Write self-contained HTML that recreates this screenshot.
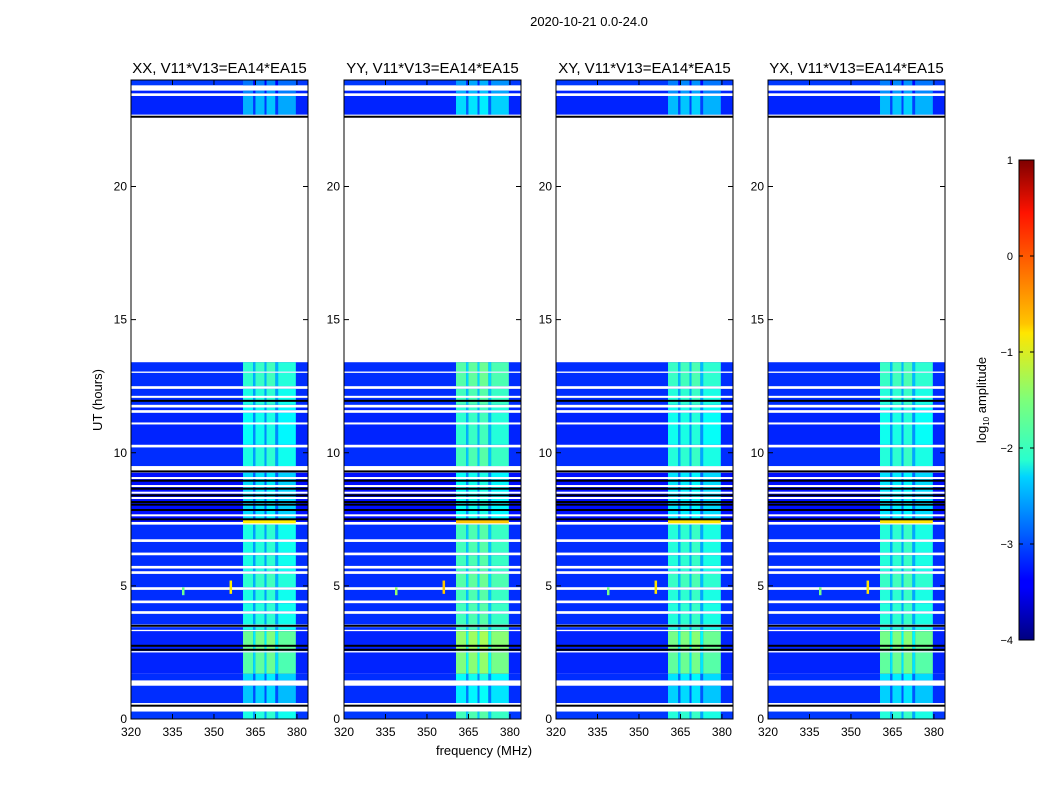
<!DOCTYPE html>
<html><head><meta charset="utf-8"><style>
body{margin:0;background:#fff;font-family:"Liberation Sans",sans-serif;}
svg text{font-family:"Liberation Sans",sans-serif;fill:#000}
</style></head><body>
<svg id="fig" width="1050" height="800" xmlns="http://www.w3.org/2000/svg">
<text x="589" y="26" font-size="13" text-anchor="middle">2020-10-21 0.0-24.0</text>
<text transform="translate(102,400) rotate(-90)" font-size="13" text-anchor="middle">UT (hours)</text>
<text x="484" y="755" font-size="13" text-anchor="middle">frequency (MHz)</text>
<defs><linearGradient id="jet" x1="0" y1="1" x2="0" y2="0">
<stop offset="0" stop-color="#00007f"/><stop offset="0.11" stop-color="#0000ff"/><stop offset="0.125" stop-color="#0000ff"/><stop offset="0.34" stop-color="#00d4ff"/><stop offset="0.375" stop-color="#29ffce"/><stop offset="0.5" stop-color="#7dff7a"/><stop offset="0.64" stop-color="#ffe600"/><stop offset="0.66" stop-color="#ffc400"/><stop offset="0.89" stop-color="#ff1300"/><stop offset="1" stop-color="#7f0000"/>
</linearGradient></defs>
<g id="panels"></g>
<g>
<rect x="1019" y="160" width="15" height="480" fill="url(#jet)" stroke="#000" stroke-width="1"/>
</g>
<g id="cbticks"></g>
<text transform="translate(986,400) rotate(-90)" font-size="13" text-anchor="middle">log<tspan font-size="8" dy="3">10</tspan><tspan dy="-3"> amplitude</tspan></text>
</svg>
<script>
const panelTitles=["XX, V11*V13=EA14*EA15","YY, V11*V13=EA14*EA15","XY, V11*V13=EA14*EA15","YX, V11*V13=EA14*EA15"];
const panelLeft=[131,344,556,768];
const panelGain=[0,0.2,0.05,0.05];
const xTicks=[320,335,350,365,380];
const yTicks=[0,5,10,15,20];
const cbTicks=[1,0,-1,-2,-3,-4];
// data segments: [start hour, end hour, band level]
const segStart=[0,0.6,1.45,1.7,2.55,3.35,3.55,4.05,4.45,4.95,5.55,5.75,6.25,6.75,7.4,9.5,10.3,11.6,11.8,12.5,13.05,22.7,23.5,23.8];
const segEnd=[0.28,1.25,1.7,2.5,3.3,3.45,3.95,4.35,4.85,5.45,5.65,6.15,6.65,7.3,9.25,10.2,11.5,11.7,12.4,13.0,13.4,23.4,23.6,24];
const segBand=[-2.0,-2.4,-2.3,-1.7,-1.6,-2.0,-2.0,-2.0,-2.0,-1.9,-2.0,-2.0,-2.0,-2.0,-2.3,-2.0,-2.1,-2.1,-2.0,-1.9,-1.9,-2.5,-2.7,-2.8];
const segBg=[-3.1,-3.15,-3.15,-3.2,-3.2,-3.15,-3.15,-3.15,-3.15,-3.15,-3.15,-3.15,-3.15,-3.15,-3.3,-3.15,-3.2,-3.2,-3.15,-3.15,-3.15,-3.2,-3.2,-3.1];
const whiteLines=[7.65,8.3,8.5,8.75,9.05,11.1,12.1];
const blackLines=[0.5,2.6,2.75,3.5,7.5,7.85,8.05,8.15,8.4,8.65,8.95,9.3,11.95,22.62];
const bandLo=[360.5,364.2,365.0,368.3,369.0,372.2,373.2];
const bandHi=[364.2,365.0,368.3,369.0,372.2,373.2,379.6];
const bandOff=[0,-0.6,0.05,-0.6,0.1,-0.6,-0.05];
const sigFreq=[338.8,356];
const sigStartH=[4.65,4.7];
const sigEndH=[4.95,5.2];
const sigVal=[-1.6,-0.8];
const orangeRowH=[7.35,7.5,-0.8];
const NS="http://www.w3.org/2000/svg";
function jet(v){let t=(v+4)/5;t=Math.max(0,Math.min(1,t));
 const r=Math.max(0,Math.min(1,1.5-Math.abs(4*t-3))),g=Math.max(0,Math.min(1,1.5-Math.abs(4*t-2))),b=Math.max(0,Math.min(1,1.5-Math.abs(4*t-1)));
 return `rgb(${r*255|0},${g*255|0},${b*255|0})`;}
const Y0=719,Y1=80,W=177;
function ys(h){return Y0-(h/24)*(Y0-Y1);}
function mk(tag,at,parent){const e=document.createElementNS(NS,tag);for(const k in at)e.setAttribute(k,at[k]);parent.appendChild(e);return e;}
const root=document.getElementById('panels');
panelLeft.forEach((L,p)=>{
 const xs=f=>L+(f-320)/64*W;
 const g=mk('g',{},root);
 
 
 mk('rect',{x:L,y:Y1,width:W,height:Y0-Y1,fill:'#fff'},g);
 for(let i=0;i<segStart.length;i++){
  const y=ys(segEnd[i]),h=ys(segStart[i])-y;
  const r=mk('rect',{x:L,y:y,width:W,height:h,fill:jet(segBg[i])},g);
  
  
  for(let j=0;j<bandLo.length;j++){
   const b=mk('rect',{x:xs(bandLo[j]),y:y,width:xs(bandHi[j])-xs(bandLo[j]),height:h,fill:jet(segBand[i]+bandOff[j]+panelGain[p])},g);
   
   
  }
 }
 const o=mk('rect',{x:xs(bandLo[0]),y:ys(orangeRowH[1]),width:xs(bandHi[6])-xs(bandLo[0]),height:ys(orangeRowH[0])-ys(orangeRowH[1]),fill:jet(orangeRowH[2]+panelGain[p])},g);
 
 for(let k=0;k<sigFreq.length;k++){
  const s=mk('rect',{x:xs(sigFreq[k])-1,y:ys(sigEndH[k]),width:2.5,height:ys(sigStartH[k])-ys(sigEndH[k]),fill:jet(sigVal[k]+panelGain[p])},g);
  
 }
 whiteLines.forEach(h=>{const l=mk('rect',{x:L,y:ys(h)-1,width:W,height:2,fill:'#fff'},g);});
 blackLines.forEach(h=>{const l=mk('rect',{x:L,y:ys(h)-1,width:W,height:2,fill:'#000'},g);});
 mk('rect',{x:L,y:Y1,width:W,height:Y0-Y1,fill:'none',stroke:'#000','stroke-width':1},g);
 const t=mk('text',{x:L+W/2,y:73,'font-size':15,'text-anchor':'middle'},g);t.textContent=panelTitles[p];
 
 xTicks.forEach(f=>{const x=xs(f);mk('line',{x1:x,y1:Y0,x2:x,y2:Y0-5,stroke:'#000'},g);mk('line',{x1:x,y1:Y1,x2:x,y2:Y1+5,stroke:'#000'},g);
  const tt=mk('text',{x:x,y:736,'font-size':12,'text-anchor':'middle'},g);tt.textContent=f;});
 yTicks.forEach(v=>{const y=ys(v);mk('line',{x1:L,y1:y,x2:L+5,y2:y,stroke:'#000'},g);mk('line',{x1:L+W,y1:y,x2:L+W-5,y2:y,stroke:'#000'},g);
  const tt=mk('text',{x:L-4,y:y+4,'font-size':12,'text-anchor':'end'},g);tt.textContent=v;});
});
const cb=document.getElementById('cbticks');
cbTicks.forEach(v=>{const y=160+(1-v)/5*480;
 mk('line',{x1:1019,y1:y,x2:1023,y2:y,stroke:'#000'},cb);mk('line',{x1:1034,y1:y,x2:1030,y2:y,stroke:'#000'},cb);
 const t=mk('text',{x:1013,y:y+4,'font-size':11,'text-anchor':'end'},cb);t.textContent=(v<0?'\u2212'+(-v):v);
 
});
</script>
</body></html>
